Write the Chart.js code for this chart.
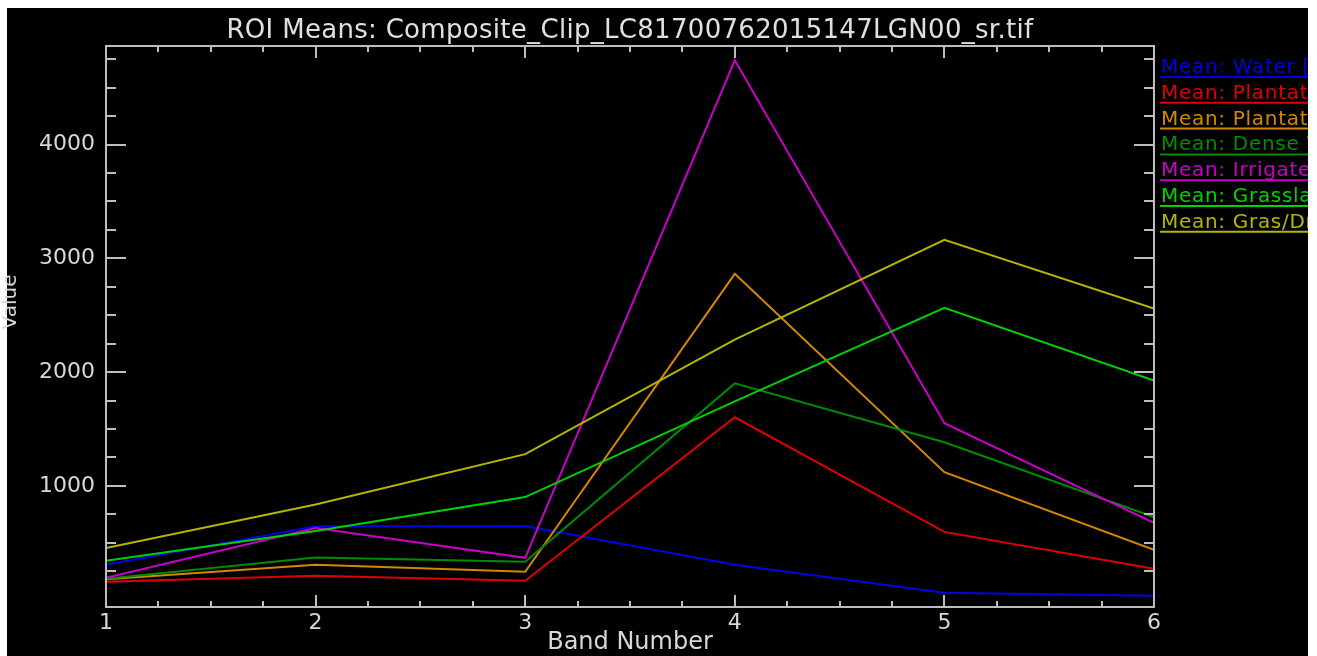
<!DOCTYPE html>
<html><head><meta charset="utf-8">
<script src="https://cdn.jsdelivr.net/npm/chart.js@4.4.1/dist/chart.umd.min.js"></script>
<style>html,body{margin:0;padding:0;background:#fff;overflow:hidden}
#wrap{position:absolute;left:0;top:0;width:1317px;height:656px}</style>
</head><body><div id="wrap"><canvas id="c" width="1317" height="656"></canvas></div>
<script>
// ---- data ----
const bands = [1, 2, 3, 4, 5, 6];
const xTickLabels = ['1', '2', '3', '4', '5', '6'];
const yTickLabels = [1000, 2000, 3000, 4000];
const chartTitle = 'ROI Means: Composite_Clip_LC81700762015147LGN00_sr.tif';
const xTitle = 'Band Number';
const yTitle = 'Value';
const seriesNames = [
  'Mean: Water [Blue]',
  'Mean: Plantation [Red]',
  'Mean: Plantation [Orange]',
  'Mean: Dense Vegetation [Dark Green]',
  'Mean: Irrigated [Magenta]',
  'Mean: Grassland [Green]',
  'Mean: Gras/Dryland [Yellow]'
];
const water      = [307, 645, 648, 307, 61, 35];
const plantation = [158, 210, 166, 1603, 596, 272];
const plantation2= [180, 307, 245, 2864, 1121, 438];
const dense      = [185, 372, 333, 1901, 1384, 727];
const irrigated  = [193, 630, 368, 4740, 1551, 675];
const grassland  = [342, 604, 902, 1743, 2566, 1927];
const grasDry    = [455, 836, 1279, 2286, 3162, 2558];
const seriesValues = [water, plantation, plantation2, dense, irrigated, grassland, grasDry];

// ---- style ----
const seriesColors = ['rgb(0,0,230)', 'rgb(225,0,0)', 'rgb(212,135,0)', 'rgb(0,140,0)', 'rgb(200,0,200)', 'rgb(0,210,0)', 'rgb(182,182,0)'];
const textColor = '#d8d8d8';
const axisColor = '#bdbdbd';
const FONT = '"DejaVu Sans", sans-serif';

const datasets = seriesNames.map((name, i) => ({
  label: name,
  data: bands.map((b, j) => ({x: b, y: seriesValues[i][j]})),
  borderColor: seriesColors[i],
  backgroundColor: seriesColors[i],
  borderWidth: 2,
  pointRadius: 0,
  tension: 0,
  fill: false,
  order: seriesNames.length - i
}));

const frame = {
  id: 'frame',
  beforeDraw(chart) {
    const ctx = chart.ctx;
    ctx.save();
    ctx.fillStyle = '#ffffff';
    ctx.fillRect(0, 0, chart.width, chart.height);
    ctx.fillStyle = '#000000';
    ctx.fillRect(7, 8, 1301, 648);
    ctx.restore();
  },
  afterDatasetsDraw(chart) {
    const ctx = chart.ctx;
    const a = chart.chartArea;
    const xs = chart.scales.x, ys = chart.scales.y;
    ctx.save();
    ctx.strokeStyle = axisColor;
    ctx.lineWidth = 2;
    ctx.strokeRect(a.left, a.top, a.right - a.left, a.bottom - a.top);
    ctx.beginPath();
    for (let v = 1; v <= 6.0001; v += 0.25) {
      const px = Math.round(xs.getPixelForValue(v));
      const major = Math.abs(v - Math.round(v)) < 1e-6;
      const len = major ? 12 : 6;
      ctx.moveTo(px, a.bottom); ctx.lineTo(px, a.bottom - len);
      ctx.moveTo(px, a.top); ctx.lineTo(px, a.top + len);
    }
    for (let v = 250; v <= 4750; v += 250) {
      const py = Math.round(ys.getPixelForValue(v));
      const major = v % 1000 === 0;
      const len = major ? 20 : 10;
      ctx.moveTo(a.left, py); ctx.lineTo(a.left + len, py);
      ctx.moveTo(a.right, py); ctx.lineTo(a.right - len, py);
    }
    ctx.stroke();
    ctx.restore();
  },
  afterDraw(chart) {
    const ctx = chart.ctx;
    const a = chart.chartArea;
    ctx.save();
    // title
    ctx.fillStyle = '#e0e0e0';
    ctx.font = '26px ' + FONT;
    ctx.textAlign = 'center';
    ctx.textBaseline = 'alphabetic';
    ctx.letterSpacing = '0.3px';
    ctx.fillText(chartTitle, (a.left + a.right) / 2, 38);
    ctx.letterSpacing = '0px';
    // y-axis title
    ctx.save();
    ctx.translate(11, 302);
    ctx.rotate(-Math.PI / 2);
    ctx.font = '20px ' + FONT;
    ctx.fillStyle = textColor;
    ctx.textAlign = 'center';
    ctx.textBaseline = 'middle';
    ctx.fillText(yTitle, 0, 0);
    ctx.restore();
    // legend
    ctx.beginPath();
    ctx.rect(7, 8, 1301, 648);
    ctx.clip();
    ctx.font = '20px ' + FONT;
    ctx.letterSpacing = '0.7px';
    ctx.textAlign = 'left';
    chart.data.datasets.forEach((ds, i) => {
      const uy = 77 + i * 25.8;
      ctx.fillStyle = ds.borderColor;
      ctx.fillText(ds.label, 1161, uy - 4);
      ctx.strokeStyle = ds.borderColor;
      ctx.lineWidth = 2;
      ctx.beginPath();
      ctx.moveTo(1160, uy); ctx.lineTo(1310, uy);
      ctx.stroke();
    });
    ctx.restore();
  }
};

new Chart(document.getElementById('c'), {
  type: 'line',
  data: { datasets },
  options: {
    responsive: false,
    animation: false,
    devicePixelRatio: 1,
    layout: { padding: { left: 0, top: 46, right: 163, bottom: 0 } },
    plugins: { legend: { display: false }, title: { display: false }, tooltip: { enabled: false } },
    scales: {
      x: {
        type: 'linear', min: 1, max: 6,
        afterBuildTicks: s => { s.ticks = bands.map(v => ({value: v})); },
        afterFit: s => { s.height = 49; },
        grid: { display: false, drawTicks: false },
        border: { display: false },
        ticks: { color: textColor, font: { family: FONT, size: 22 }, padding: 3, maxRotation: 0, autoSkip: false,
                 callback: (v, i) => xTickLabels[i] },
        title: { display: true, text: xTitle, color: textColor, font: { family: FONT, size: 24 }, padding: { top: 0, bottom: -1 } }
      },
      y: {
        type: 'linear', min: -64, max: 4866,
        afterBuildTicks: s => { s.ticks = yTickLabels.map(v => ({value: v})); },
        afterFit: s => { s.width = 106; },
        grid: { display: false, drawTicks: false },
        border: { display: false },
        ticks: { color: textColor, font: { family: FONT, size: 22 }, padding: 11,
                 callback: v => String(v) }
      }
    }
  },
  plugins: [frame]
});
</script>
</body></html>
